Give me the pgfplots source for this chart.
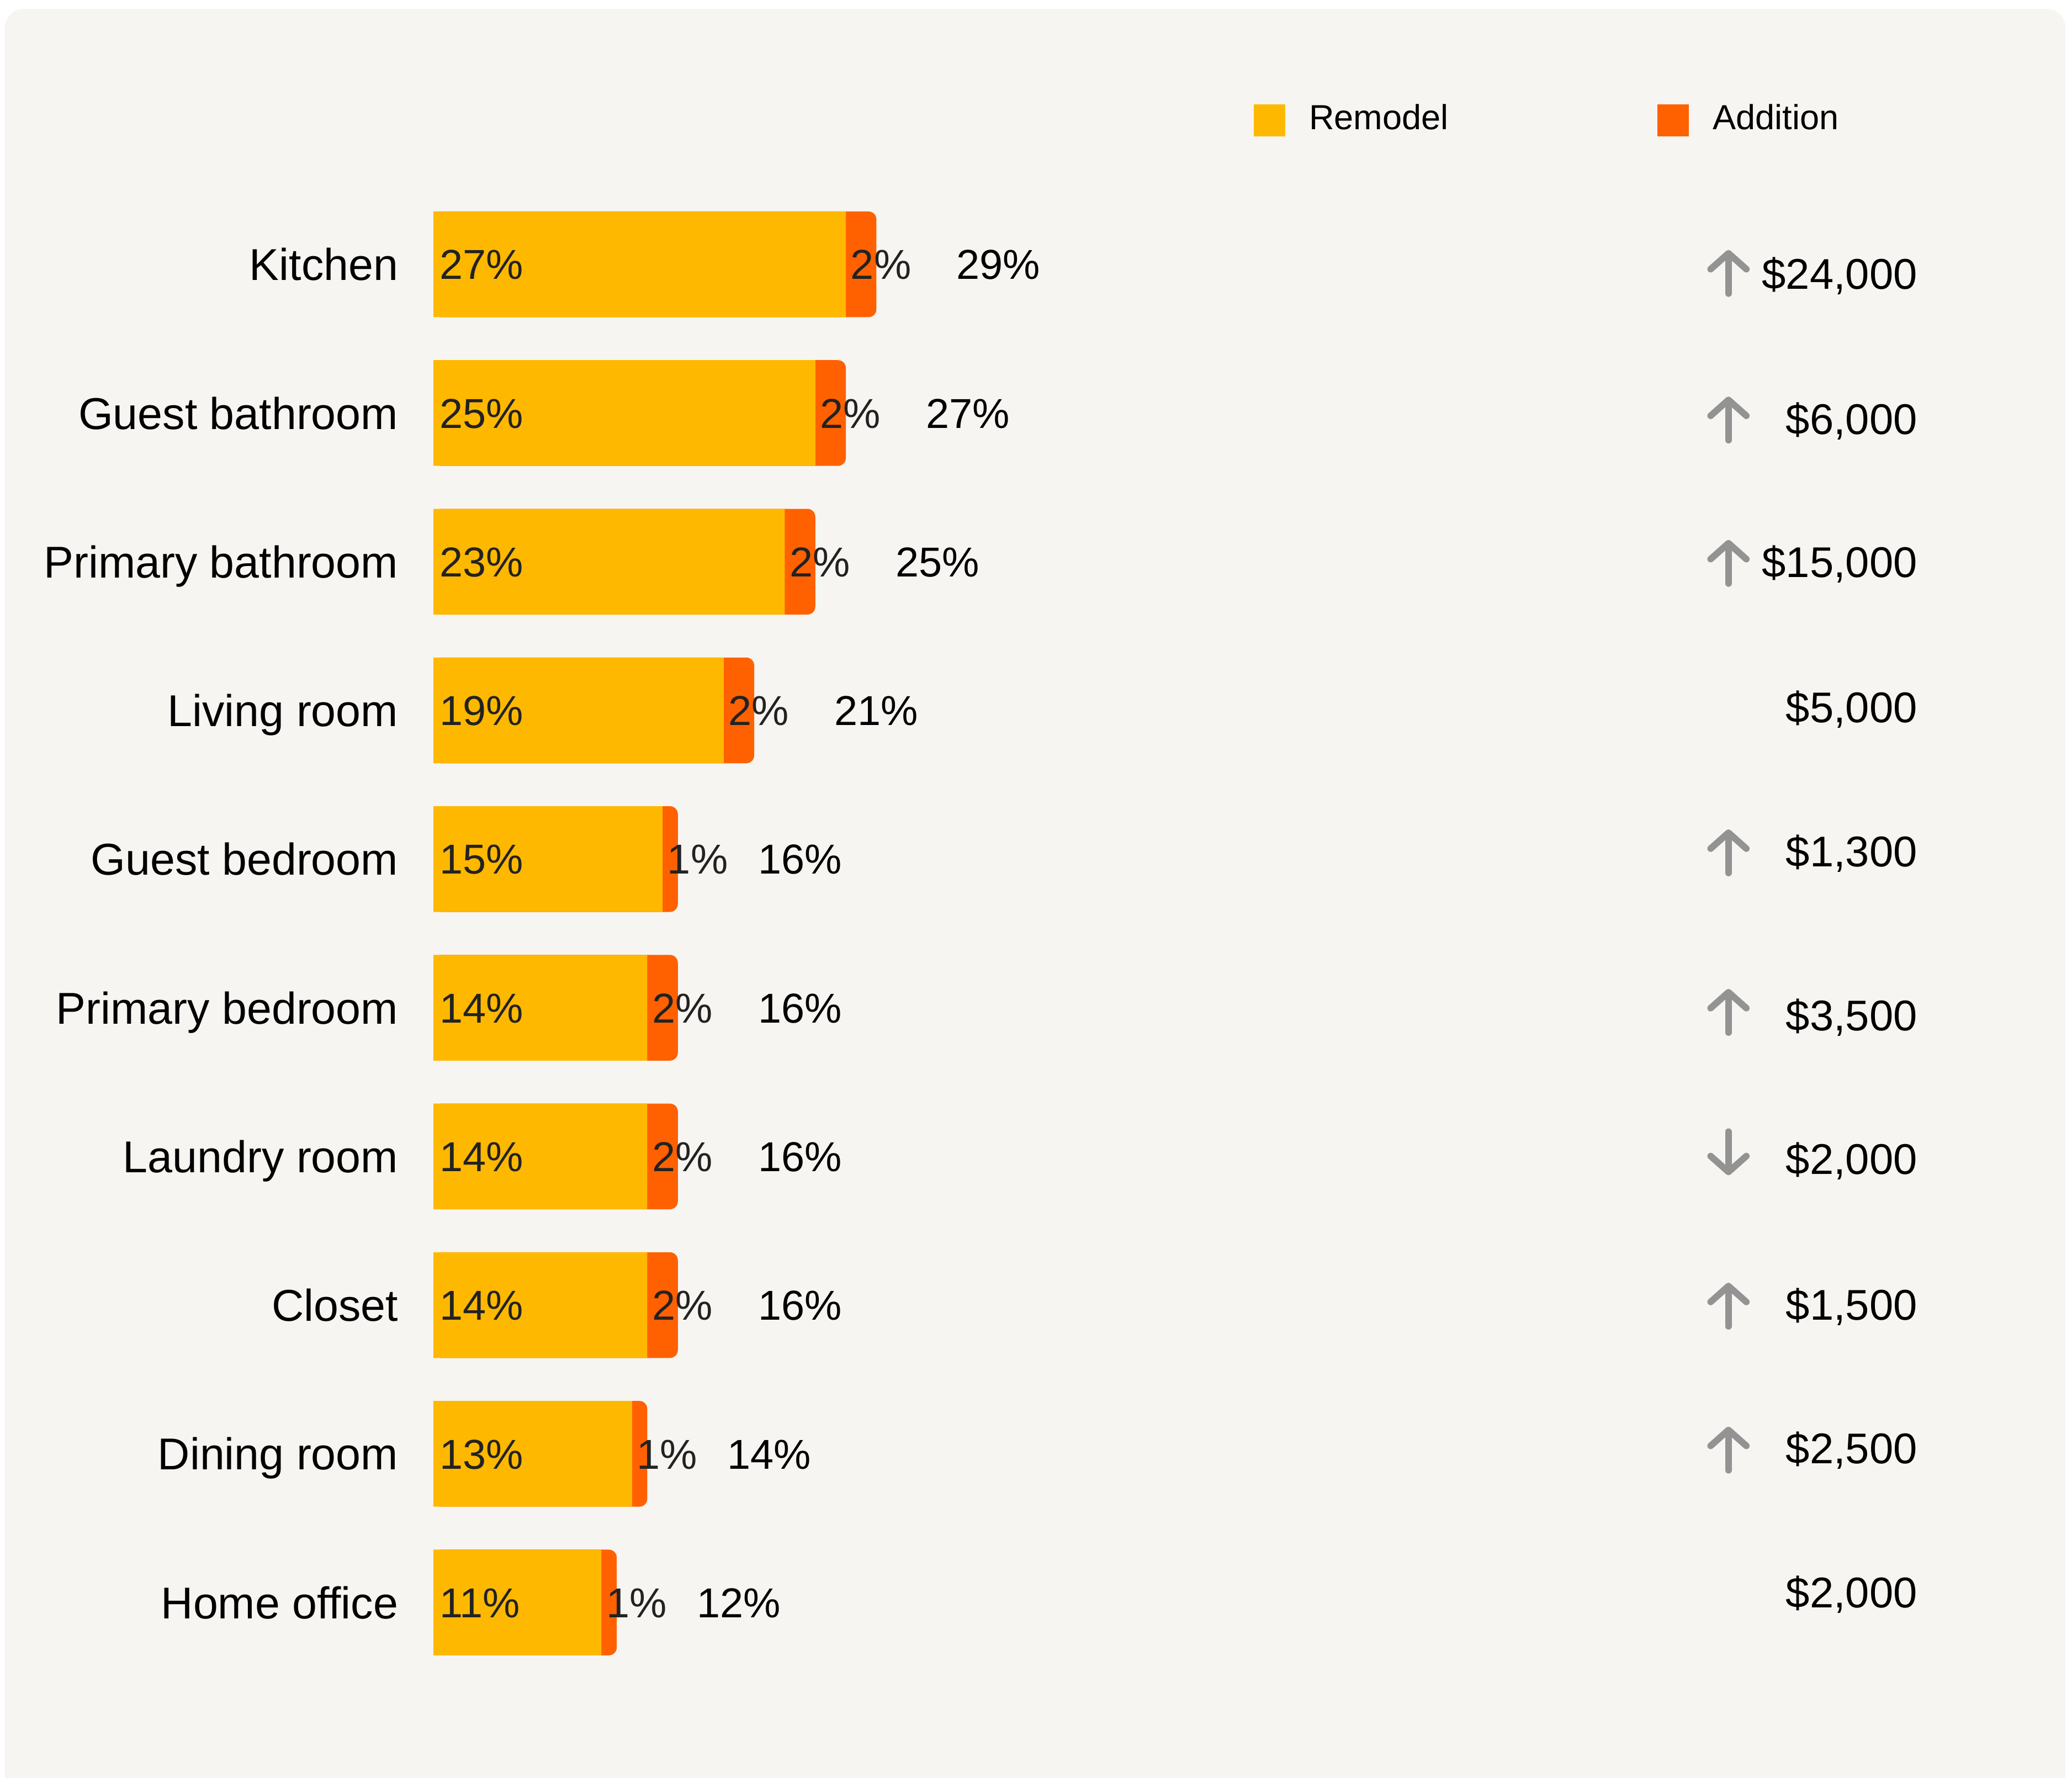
\documentclass[border=0pt]{standalone}
\usepackage{fontspec}
\setmainfont{Liberation Sans}
\usepackage{pgfplots}
\usepackage{pgfplotstable}
\pgfplotsset{compat=1.18}
\usetikzlibrary{arrows.meta,backgrounds}

\definecolor{remodel}{HTML}{FFB800}
\definecolor{addition}{HTML}{FF6100}
\definecolor{panel}{HTML}{F6F5F1}
\definecolor{arrowgray}{HTML}{939393}
\definecolor{labelink}{HTML}{222222}

% share of projects by room, median spend and its direction
\pgfplotstableread[col sep=comma]{
row,room,remodel,addition,cost,vy
0,Kitchen,27,2,24000,0.062
1,Guest bathroom,25,2,6000,1.040
2,Primary bathroom,23,2,15000,2.000
3,Living room,19,2,5000,2.978
4,Guest bedroom,15,1,1300,3.947
5,Primary bedroom,14,2,3500,5.049
6,Laundry room,14,2,2000,6.018
7,Closet,14,2,1500,6.996
8,Dining room,13,1,2500,7.964
9,Home office,11,1,2000,8.933
}\rooms

% arrow centre and direction (negative = up)
\pgfplotstableread{
ay dv
0.050 -0.293
1.036 -0.293
2.000 -0.293
3.947 -0.293
5.020 -0.293
5.980 0.293
6.996 -0.293
7.964 -0.293
}\arrows

\begin{document}
\begin{tikzpicture}
\begin{axis}[
    scale only axis,
    width=156.8mm, height=134.5mm,
    xmin=-28.374, xmax=107.27,
    ymin=-1.7778, ymax=10.1778,
    y dir=reverse,
    hide axis,
    clip=false,
    /pgf/number format/assume math mode=true,
    legend style={at={(axis cs:53.63,-0.968)}, anchor=west, draw=none, fill=none,
        inner sep=0pt, legend columns=2, font=\fontsize{7.5}{9}\selectfont,
        nodes={inner sep=0pt},
        /tikz/every odd column/.append style={column sep=1.8mm},
        /tikz/every even column/.append style={column sep=15.8mm}},
    legend image code/.code={\fill[#1, draw=none] (0mm,-1.2mm) rectangle (2.4mm,1.2mm);},
]
\coordinate (pageA) at (rel axis cs:0,0);
\coordinate (pageB) at (rel axis cs:1,1);
\coordinate (panelA) at (axis cs:-28.045,10.6);
\coordinate (panelB) at (axis cs:106.83,-1.718);

\addlegendimage{fill=remodel}
\addlegendentry{Remodel}
\addlegendimage{fill=addition}
\addlegendentry{Addition}

% bars: full total in orange, remodel share over it
\addplot[xbar, bar width=8mm, bar shift=0pt, draw=none, fill=addition,
    rounded corners=0.6mm, forget plot]
    table[x expr=\thisrow{remodel}+\thisrow{addition}, y=row]{\rooms};
\addplot[xbar, bar width=8mm, bar shift=0pt, draw=none, fill=remodel, forget plot]
    table[x=remodel, y=row]{\rooms};

% room names
\addplot[draw=none, forget plot, nodes near coords, point meta=explicit symbolic,
    every node near coord/.append style={anchor=east, xshift=-2.6mm, inner sep=0pt,
        font=\fontsize{9.6}{12}\selectfont, text height=6.9pt, text depth=0pt, black}]
    table[x expr=0, y=row, meta=room]{\rooms};

% remodel share
\addplot[draw=none, forget plot, point meta=explicit,
    nodes near coords={\pgfmathprintnumber{\pgfplotspointmeta}\%},
    every node near coord/.append style={anchor=west, xshift=0.4mm, inner sep=0pt,
        font=\fontsize{9}{11}\selectfont, text height=6.45pt, text depth=0pt, labelink}]
    table[x expr=0, y=row, meta=remodel]{\rooms};

% addition share
\addplot[draw=none, forget plot, point meta=explicit,
    nodes near coords={\pgfmathprintnumber{\pgfplotspointmeta}\%},
    every node near coord/.append style={anchor=west, xshift=0.3mm, inner sep=0pt,
        font=\fontsize{9}{11}\selectfont, text height=6.45pt, text depth=0pt, labelink}]
    table[x=remodel, y=row, meta=addition]{\rooms};

% total
\addplot[draw=none, forget plot, point meta=x,
    nodes near coords={\pgfmathprintnumber{\pgfplotspointmeta}\%},
    every node near coord/.append style={anchor=west, xshift=6mm, inner sep=0pt,
        font=\fontsize{9}{11}\selectfont, text height=6.45pt, text depth=0pt, black}]
    table[x expr=\thisrow{remodel}+\thisrow{addition}, y=row]{\rooms};

% cost column
\addplot[draw=none, forget plot, point meta=explicit,
    nodes near coords={\$\pgfmathprintnumber[fixed,precision=0,1000 sep={,}]{\pgfplotspointmeta}},
    every node near coord/.append style={anchor=east, inner sep=0pt,
        font=\fontsize{9.25}{11}\selectfont, text height=6.6pt, text depth=0pt, black}]
    table[x expr=97.2, y=vy, meta=cost]{\rooms};

% trend arrows
\addplot[forget plot, draw=arrowgray, line width=0.5mm, line cap=round,
    -{Straight Barb[length=1.2mm, width=2.7mm, round]},
    quiver={u=0, v=\thisrow{dv}}]
    table[x expr=84.78, y expr=\thisrow{ay}-0.5*\thisrow{dv}]{\arrows};
\end{axis}
\begin{scope}[on background layer]
\fill[white] (pageA) rectangle (pageB);
\fill[panel, rounded corners=1.4mm] (panelA) rectangle (panelB);
\end{scope}
\pgfresetboundingbox
\path[use as bounding box] (pageA) rectangle (pageB);
\end{tikzpicture}
\end{document}
